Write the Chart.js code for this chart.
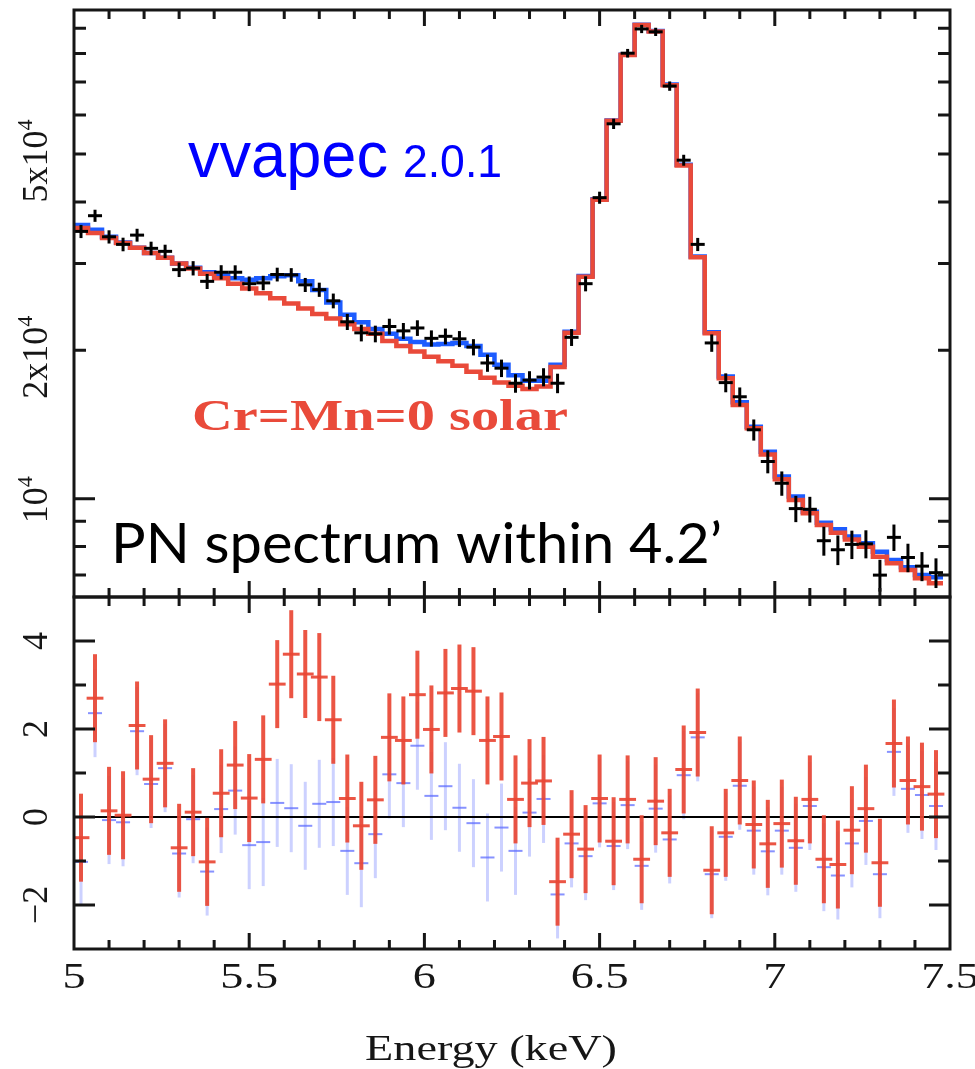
<!DOCTYPE html>
<html>
<head>
<meta charset="utf-8">
<title>PN spectrum within 4.2'</title>
<script src="https://cdn.jsdelivr.net/npm/chart.js@4.4.1/dist/chart.umd.min.js"></script>
<style>
  html, body { margin: 0; padding: 0; background: #fff; }
  #wrap { position: relative; width: 975px; height: 1069px; overflow: hidden; }
  #wrap canvas { position: absolute; left: 0; }
  #specChart { top: 0; }
  #resChart  { top: 594px; }
</style>
</head>
<body>
<div id="wrap">
  <canvas id="specChart" width="975" height="603"></canvas>
  <canvas id="resChart" width="975" height="475"></canvas>
</div>
<script>
// -------------------------------------------------------
// PN spectrum 5-7.5 keV : data + 2 models + delchi residuals
// -------------------------------------------------------

/* ---------- data ---------- */
// bin centres, keV (bins are 0.04 keV wide)
const energy = [
  5.02, 5.06, 5.10, 5.14, 5.18, 5.22, 5.26, 5.30, 5.34, 5.38,
  5.42, 5.46, 5.50, 5.54, 5.58, 5.62, 5.66, 5.70, 5.74, 5.78,
  5.82, 5.86, 5.90, 5.94, 5.98, 6.02, 6.06, 6.10, 6.14, 6.18,
  6.22, 6.26, 6.30, 6.34, 6.38, 6.42, 6.46, 6.50, 6.54, 6.58,
  6.62, 6.66, 6.70, 6.74, 6.78, 6.82, 6.86, 6.90, 6.94, 6.98,
  7.02, 7.06, 7.10, 7.14, 7.18, 7.22, 7.26, 7.30, 7.34, 7.38,
  7.42, 7.46
];
const HALF_BIN = 0.02;

// observed spectrum (black crosses)
const counts = [
  34850, 37500, 33980, 32800, 34250, 32200, 31750, 29150, 29350, 27600,
  28800, 28800, 27300, 27400, 28500, 28450, 27150, 26550, 25200, 22850,
  21700, 21600, 22350, 21900, 22200, 21150, 21350, 21100, 20300, 18850,
  18400, 17150, 17400, 17650, 17150, 21250, 27300, 40800, 57600, 80100,
  89700, 88500, 68700, 48600, 32800, 20700, 17200, 16100, 13800, 11900,
  10750,  9550,  9520,  8220,  7880,  8080,  8100,  7000,  8350,  7600,
   7300,  7080
];
const countsErr = [
  1070, 1060, 1050, 1040, 1030, 1015, 1000,  990,  980,  970,
   960,  945,  935,  925,  915,  905,  890,  880,  870,  860,
   850,  840,  830,  820,  810,  800,  790,  780,  770,  760,
   750,  745,  740,  745,  780,  840,  960, 1150, 1380, 1610,
  1730, 1700, 1500, 1245, 1005,  840,  760,  715,  680,  640,
   610,  585,  570,  555,  545,  535,  530,  520,  515,  505,
   495,  490
];

// vvapec 2.0.1 model (blue)
const modelVvapec = [
  35900, 35100, 34000, 33100, 32300, 31500, 30800, 30000, 29400, 28800,
  28400, 28000, 27800, 28000, 28250, 28400, 27600, 26500, 25000, 23600,
  22800, 22100, 21600, 21100, 20800, 20550, 20600, 20700, 20400, 19600,
  18700, 17800, 17350, 17350, 18700, 21800, 28300, 40500, 58500, 79500,
  91500, 88800, 69200, 47600, 31000, 21750, 17700, 15700, 14000, 12450,
  11100, 10100,  9410,  8940,  8670,  8380,  8120,  7810,  7510,  7260,
   7000,  6930
];

// Cr=Mn=0 solar model (red)
const modelNoCrMn = [
  35400, 34600, 33800, 33000, 32300, 31500, 30800, 30000, 29300, 28600,
  28000, 27300, 26700, 26100, 25500, 24900, 24300, 23700, 23200, 22600,
  22100, 21600, 20900, 20400, 19900, 19400, 19000, 18600, 18100, 17600,
  17200, 16950, 16700, 16900, 18500, 21700, 28200, 40400, 58400, 79400,
  91400, 88600, 69000, 47400, 30900, 21650, 17550, 15500, 13900, 12300,
  10950,  9940,  9340,  8850,  8530,  8270,  7990,  7630,  7400,  7170,
   6900,  6740
];

// residuals (data-model)/error, error bars are +-1
const residVvapec = [
  -1.02,  2.36, -0.07, -0.12,  1.95,  0.75,  1.11, -0.83, -0.05, -1.24,
   0.18,  0.60, -0.64, -0.57,  0.32,  0.20, -0.20,  0.30,  0.34, -0.77,
  -1.05, -0.39,  0.97,  0.77,  1.62,  0.48,  0.70,  0.21, -0.14, -0.92,
  -0.24, -0.77,  0.10,  0.41, -1.76, -0.60, -0.89,  0.31, -0.66,  0.27,
  -1.11,  0.19, -0.51,  0.95,  1.81, -1.30, -0.45,  0.71, -0.31, -0.78,
  -0.31, -0.70,  0.25, -1.14, -1.33, -0.60, -0.09, -1.30,  1.48,  0.64,
   0.50,  0.25
];
const residNoCrMn = [
  -0.47,  2.70,  0.14,  0.04,  2.08,  0.86,  1.22, -0.70,  0.11, -1.02,
   0.54,  1.18,  0.43,  1.31,  3.02,  3.70,  3.25,  3.18,  2.21,  0.42,
  -0.20,  0.39,  1.81,  1.74,  2.78,  1.99,  2.82,  2.92,  2.86,  1.74,
   1.83,  0.40,  0.77,  0.82, -1.47, -0.39, -0.73,  0.42, -0.55,  0.40,
  -0.96,  0.36, -0.36,  1.08,  1.92, -1.21, -0.36,  0.83, -0.17, -0.61,
  -0.15, -0.54,  0.40, -0.96, -1.08, -0.30,  0.19, -1.04,  1.67,  0.83,
   0.69,  0.52
];
const RESID_ERR = 1;

/* ---------- axes ---------- */
const xTicks      = [5, 5.5, 6, 6.5, 7, 7.5];
const xTickLabels = ['5', '5.5', '6', '6.5', '7', '7.5'];
const yTopTicks      = [10000, 20000, 50000];
const yTopTickLabels = [['10', '4'], ['2x10', '4'], ['5x10', '4']];
const yTopMinor      = [7000, 8000, 9000, 10000, 20000, 30000, 40000, 50000, 60000, 70000, 80000, 90000];
const yResTicks      = [-2, 0, 2, 4];
const yResTickLabels = ['\u22122', '0', '2', '4'];

(() => {
  /* ---------- colours / fonts ---------- */
  const AXIS  = '#161616';
  const RED   = '#e94a3a';
  const BLUE  = '#1d5cff';
  const SERIF = '"Liberation Serif", "DejaVu Serif", serif';
  const SANS  = '"Liberation Sans", Arial, sans-serif';
  const STRETCH = 1.32;   // the original figure is stretched sideways

  Chart.defaults.animation = false;

  /* ---------- helpers ---------- */
  const stepPts = (model) => {
    const pts = energy.map((e, i) => ({ x: e - HALF_BIN, y: model[i] }));
    pts.push({ x: energy[energy.length - 1] + HALF_BIN, y: model[model.length - 1] });
    return pts;
  };
  const pointPts = (vals) => energy.map((e, i) => ({ x: e, y: vals[i] }));

  // opt.width -> squeeze to width, opt.sx -> fixed horizontal scale
  function fitText(ctx, txt, x, y, font, color, opt) {
    opt = opt || {};
    ctx.save();
    ctx.font = font; ctx.fillStyle = color; ctx.textBaseline = 'alphabetic';
    const w = ctx.measureText(txt).width;
    const sx = opt.width ? opt.width / w : (opt.sx || 1);
    ctx.translate(x, y); ctx.scale(sx, 1);
    ctx.textAlign = opt.align || 'left';
    ctx.fillText(txt, 0, 0);
    ctx.restore();
  }

  // rotated y label (reads bottom -> top), optional superscript
  function vLabel(ctx, parts, xBase, yMid) {
    ctx.save();
    ctx.translate(xBase, yMid); ctx.rotate(-Math.PI / 2);
    ctx.fillStyle = AXIS; ctx.textAlign = 'left'; ctx.textBaseline = 'alphabetic';
    ctx.font = '36px ' + SERIF;
    const w1 = ctx.measureText(parts[0]).width;
    let w2 = 0;
    if (parts[1]) { ctx.font = '22px ' + SERIF; w2 = ctx.measureText(parts[1]).width; }
    const x0 = -(w1 + w2) / 2;
    ctx.font = '36px ' + SERIF; ctx.fillText(parts[0], x0, 0);
    if (parts[1]) { ctx.font = '22px ' + SERIF; ctx.fillText(parts[1], x0 + w1, -15); }
    ctx.restore();
  }

  function drawBox(chart) {
    const { ctx, chartArea: a } = chart;
    ctx.save();
    ctx.strokeStyle = AXIS; ctx.lineWidth = 3;
    ctx.strokeRect(a.left, a.top, a.right - a.left, a.bottom - a.top);
    ctx.restore();
  }

  function drawXTicks(chart) {
    const { ctx, chartArea: a, scales } = chart;
    ctx.save(); ctx.strokeStyle = AXIS; ctx.lineWidth = 3; ctx.beginPath();
    for (let k = 1; k < 25; k++) {
      const x = scales.x.getPixelForValue(5 + k * 0.1);
      const len = k % 5 === 0 ? 16 : 9;
      ctx.moveTo(x, a.top);    ctx.lineTo(x, a.top + len);
      ctx.moveTo(x, a.bottom); ctx.lineTo(x, a.bottom - len);
    }
    ctx.stroke(); ctx.restore();
  }

  function drawYTicks(chart, scale, values, isMajor) {
    const { ctx, chartArea: a } = chart;
    ctx.save(); ctx.strokeStyle = AXIS; ctx.lineWidth = 3; ctx.beginPath();
    values.forEach(v => {
      const y = scale.getPixelForValue(v);
      const len = isMajor(v) ? 21 : 12;
      ctx.moveTo(a.left, y);  ctx.lineTo(a.left + len, y);
      ctx.moveTo(a.right, y); ctx.lineTo(a.right - len, y);
    });
    ctx.stroke(); ctx.restore();
  }

  /* ---------- error bars, drawn right after their dataset ---------- */
  const errorBars = {
    id: 'errorBars',
    afterDatasetDraw(chart, args) {
      const ds = chart.data.datasets[args.index];
      if (!ds.errY) return;
      const { ctx, chartArea: a } = chart;
      const xs = chart.scales.x, ys = chart.scales.y;
      ctx.save();
      ctx.beginPath(); ctx.rect(a.left, a.top, a.right - a.left, a.bottom - a.top); ctx.clip();
      ds.data.forEach((p, i) => {
        const e  = Array.isArray(ds.errY) ? ds.errY[i] : ds.errY;
        const x  = xs.getPixelForValue(p.x);
        const y  = ys.getPixelForValue(p.y);
        ctx.strokeStyle = ds.barColor; ctx.lineWidth = ds.vWidth;
        ctx.beginPath();
        ctx.moveTo(x, ys.getPixelForValue(p.y - e));
        ctx.lineTo(x, ys.getPixelForValue(p.y + e));
        ctx.stroke();
        ctx.strokeStyle = ds.capColor || ds.barColor; ctx.lineWidth = ds.hWidth;
        ctx.beginPath();
        ctx.moveTo(xs.getPixelForValue(p.x - ds.errX), y);
        ctx.lineTo(xs.getPixelForValue(p.x + ds.errX), y);
        ctx.stroke();
      });
      ctx.restore();
    }
  };

  const baseOpts = (yScale, pad) => ({
    responsive: false,
    animation: false,
    events: [],
    layout: { padding: pad },
    plugins: { legend: { display: false }, tooltip: { enabled: false } },
    elements: { point: { radius: 0 } },
    scales: {
      x: { type: 'linear', min: 5, max: 7.5, display: false },
      y: yScale
    }
  });

  /* ---------- top panel: spectrum ---------- */
  const specFrame = {
    id: 'specFrame',
    afterDraw(chart) {
      const { ctx } = chart;
      const ys = chart.scales.y;
      drawBox(chart);
      drawXTicks(chart);
      drawYTicks(chart, ys, yTopMinor, v => v === 10000);
      const shift = [1, 7, 7];
      yTopTicks.forEach((v, i) => vLabel(ctx, yTopTickLabels[i], 47, ys.getPixelForValue(v) + shift[i]));

      // annotations
      fitText(ctx, 'vvapec', 188, 177, '64px ' + SANS, '#0000ff', { width: 200 });
      fitText(ctx, '2.0.1', 403, 177, '46px ' + SANS, '#0000ff', { width: 99 });
      fitText(ctx, 'Cr=Mn=0 solar', 192, 430, 'bold 45px ' + SERIF, RED, { width: 376 });
      fitText(ctx, 'PN spectrum within 4.2\u2019', 111, 563, '56px Lato, "Open Sans", sans-serif', '#000', { width: 611 });
    }
  };

  new Chart(document.getElementById('specChart').getContext('2d'), {
    type: 'line',
    data: {
      datasets: [
        { label: 'data', data: pointPts(counts), showLine: false, pointRadius: 0,
          errY: countsErr, errX: HALF_BIN, barColor: '#000', vWidth: 3, hWidth: 3, order: 0 },
        { label: 'Cr=Mn=0 solar', data: stepPts(modelNoCrMn), stepped: 'before',
          borderColor: RED, borderWidth: 4.5, pointRadius: 0, fill: false, order: 1 },
        { label: 'vvapec 2.0.1', data: stepPts(modelVvapec), stepped: 'before',
          borderColor: BLUE, borderWidth: 4.5, pointRadius: 0, fill: false, order: 2 }
      ]
    },
    options: baseOpts(
      { type: 'logarithmic', min: 6320, max: 98000, display: false },
      { left: 74, right: 25, top: 10, bottom: 6 }
    ),
    plugins: [errorBars, specFrame]
  });

  /* ---------- bottom panel: residuals ---------- */
  const resFrame = {
    id: 'resFrame',
    afterDraw(chart) {
      const { ctx, chartArea: a } = chart;
      const xs = chart.scales.x, ys = chart.scales.y;
      drawBox(chart);
      drawXTicks(chart);
      drawYTicks(chart, ys, [-2, -1, 0, 1, 2, 3, 4], v => v % 2 === 0);
      yResTicks.forEach((v, i) => vLabel(ctx, [yResTickLabels[i]], 47, ys.getPixelForValue(v)));

      xTicks.forEach((v, i) => {
        fitText(ctx, xTickLabels[i], xs.getPixelForValue(v), a.bottom + 39, '35px ' + SERIF, AXIS,
          { sx: STRETCH, align: 'center' });
      });
      fitText(ctx, 'Energy (keV)', 491, a.bottom + 111, '35px ' + SERIF, AXIS, { sx: STRETCH, align: 'center' });
    }
  };

  new Chart(document.getElementById('resChart').getContext('2d'), {
    type: 'line',
    data: {
      datasets: [
        { label: 'resid Cr=Mn=0', data: pointPts(residNoCrMn), showLine: false, pointRadius: 0,
          errY: RESID_ERR, errX: 0.024, barColor: 'rgba(233,70,52,0.92)', vWidth: 4, hWidth: 3, order: 0 },
        { label: 'zero', data: [{ x: 5, y: 0 }, { x: 7.5, y: 0 }],
          borderColor: '#000', borderWidth: 2, pointRadius: 0, order: 1 },
        { label: 'resid vvapec', data: pointPts(residVvapec), showLine: false, pointRadius: 0,
          errY: RESID_ERR, errX: 0.02, barColor: 'rgba(120,135,255,0.38)', capColor: 'rgba(95,110,255,0.75)',
          vWidth: 3, hWidth: 2, order: 2 }
      ]
    },
    options: baseOpts(
      { type: 'linear', min: -3, max: 5, display: false },
      { left: 74, right: 25, top: 3, bottom: 120 }
    ),
    plugins: [errorBars, resFrame]
  });
})();
</script>
</body>
</html>
